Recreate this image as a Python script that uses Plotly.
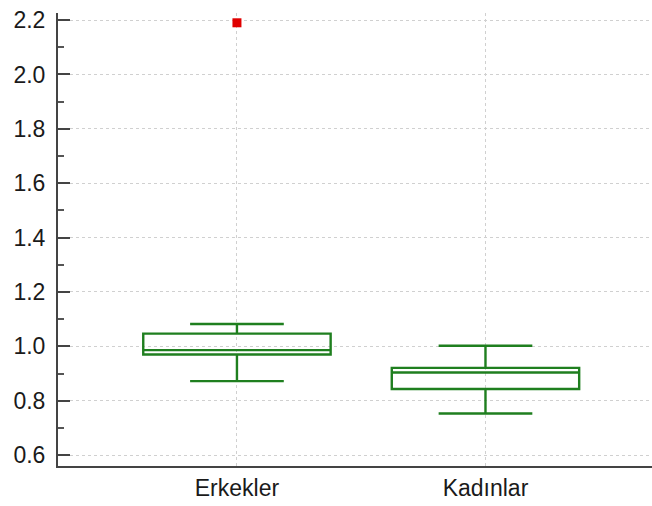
import plotly.graph_objects as go

categories = ["Erkekler", "Kadınlar"]
q1 = [0.970, 0.843]
median = [0.986, 0.904]
q3 = [1.047, 0.921]
lower_whisker = [0.872, 0.753]
upper_whisker = [1.082, 1.002]
outlier_cat = ["Erkekler"]
outlier_val = [2.19]

green = "#1f7f1f"
fig = go.Figure()
fig.add_trace(go.Box(
    x=categories, q1=q1, median=median, q3=q3,
    lowerfence=lower_whisker, upperfence=upper_whisker,
    width=0.754, whiskerwidth=0.5,
    line=dict(color=green, width=2.4),
    fillcolor="rgba(255,255,255,0)",
    boxpoints=False, hoverinfo="skip", showlegend=False,
))
fig.add_trace(go.Scatter(
    x=outlier_cat, y=outlier_val, mode="markers",
    marker=dict(symbol="square", color="#e00000", size=9),
    showlegend=False,
))

axis_font = dict(family="Liberation Sans, Arial, sans-serif", size=23, color="#1a1a1a")
fig.update_layout(
    width=652, height=506,
    margin=dict(l=58, r=0, t=13, b=40),
    plot_bgcolor="white", paper_bgcolor="white",
    font=axis_font,
    xaxis=dict(
        type="category", range=[-0.72, 1.67], automargin=False,
        showline=True, linecolor="#444", linewidth=2,
        showgrid=True, gridcolor="#d0d0d0", griddash="dot", gridwidth=1,
        ticks="", tickfont=axis_font, zeroline=False, ticklabeloverflow="allow",
    ),
    yaxis=dict(
        range=[0.56, 2.226], automargin=False,
        tickmode="array",
        tickvals=[0.6, 0.8, 1.0, 1.2, 1.4, 1.6, 1.8, 2.0, 2.2],
        ticktext=["0.6", "0.8", "1.0", "1.2", "1.4", "1.6", "1.8", "2.0", "2.2"],
        showline=True, linecolor="#444", linewidth=2,
        ticks="inside", ticklen=12, tickwidth=2, tickcolor="#444",
        minor=dict(dtick=0.1, tick0=0.5, ticks="inside", ticklen=6, tickwidth=1.5, tickcolor="#555", showgrid=False),
        showgrid=True, gridcolor="#d0d0d0", griddash="dot", gridwidth=1,
        tickfont=axis_font, zeroline=False, ticklabelstandoff=6, ticklabeloverflow="allow",
    ),
)
fig.write_html(
    "out.html",
    config={"displayModeBar": False},
    post_script="document.body.style.margin='0';document.body.style.overflow='hidden';",
)
